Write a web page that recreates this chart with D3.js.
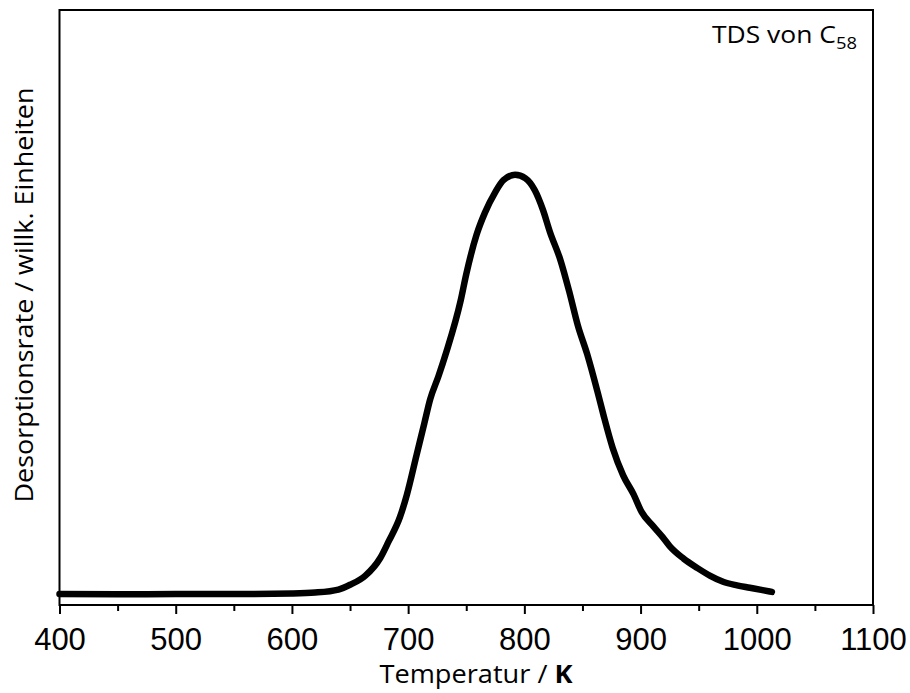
<!DOCTYPE html>
<html>
<head>
<meta charset="utf-8">
<script src="https://cdn.jsdelivr.net/npm/d3@7"></script>
<style>
  body { margin: 0; background: #fff; }
  .tick text { font-family: "Liberation Sans", Arial, sans-serif; }
</style>
</head>
<body>
<div id="vis"></div>
<script>
// frame size and plot box
const FRAME_WIDTH = 910;
const FRAME_HEIGHT = 693;
const MARGINS = {left: 59.5, right: 37, top: 10, bottom: 88};

// data (temperature in K, rate in arbitrary units)
const temperature = [400, 450, 500, 550, 600, 620, 640, 650, 663, 676, 683, 693, 699, 707, 714, 719, 726, 733,
                     745, 750, 759, 766, 775, 782, 792, 801, 809, 816, 822, 831, 839, 846, 854, 863, 868,
                     876, 885, 894, 901, 911, 919, 925, 937, 949, 960, 971, 983, 994, 1005, 1013];
const rate = [1.85, 1.8, 1.85, 1.85, 1.95, 2.1, 2.6, 3.4, 4.9, 7.9, 10.6, 14.8, 18.6, 25.0, 30.6, 34.6, 38.4, 42.6,
              51.0, 55.6, 62.3, 65.9, 69.4, 71.4, 72.3, 71.7, 69.7, 66.4, 62.7, 58.0, 52.4, 47.0, 42.2, 35.8, 32.0,
              26.4, 21.8, 18.6, 15.6, 13.2, 11.4, 9.9, 7.8, 6.2, 4.9, 3.9, 3.3, 2.9, 2.5, 2.2];
const majorTicks = [400, 500, 600, 700, 800, 900, 1000, 1100];
const minorTicks = [450, 550, 650, 750, 850, 950, 1050];

const data = temperature.map((t, i) => ({t: t, r: rate[i]}));

const VIS_WIDTH = FRAME_WIDTH - MARGINS.left - MARGINS.right;
const VIS_HEIGHT = FRAME_HEIGHT - MARGINS.top - MARGINS.bottom;

const FRAME = d3.select("#vis")
                .append("svg")
                  .attr("width", FRAME_WIDTH)
                  .attr("height", FRAME_HEIGHT);

const X_SCALE = d3.scaleLinear().domain([400, 1100]).range([MARGINS.left, MARGINS.left + VIS_WIDTH]);
const Y_SCALE = d3.scaleLinear().domain([0, 100]).range([MARGINS.top + VIS_HEIGHT, MARGINS.top]);

// the curve
const line = d3.line()
               .x((d) => X_SCALE(d.t))
               .y((d) => Y_SCALE(d.r))
               .curve(d3.curveMonotoneX);

FRAME.append("path")
     .datum(data)
     .attr("d", line)
     .attr("fill", "none")
     .attr("stroke", "#000")
     .attr("stroke-width", 6.5)
     .attr("stroke-linecap", "round")
     .attr("stroke-linejoin", "round");

// box around the plot
FRAME.append("rect")
     .attr("x", MARGINS.left)
     .attr("y", MARGINS.top)
     .attr("width", VIS_WIDTH)
     .attr("height", VIS_HEIGHT)
     .attr("fill", "none")
     .attr("stroke", "#000")
     .attr("stroke-width", 2);

// bottom axis, major ticks with labels
const xAxis = FRAME.append("g")
     .attr("transform", "translate(0," + (MARGINS.top + VIS_HEIGHT) + ")")
     .call(d3.axisBottom(X_SCALE).tickValues(majorTicks).tickSize(9).tickPadding(14).tickFormat(d3.format("d")));
xAxis.select(".domain").remove();
xAxis.selectAll("line").attr("stroke-width", 2);
xAxis.selectAll("text").attr("font-size", "31px").attr("fill", "#000");

// minor ticks
const xMinor = FRAME.append("g")
     .attr("transform", "translate(0," + (MARGINS.top + VIS_HEIGHT) + ")")
     .call(d3.axisBottom(X_SCALE).tickValues(minorTicks).tickSize(6).tickFormat(""));
xMinor.select(".domain").remove();
xMinor.selectAll("line").attr("stroke-width", 2);

// axis titles
const xTitle = FRAME.append("text")
     .attr("x", 476)
     .attr("y", 683)
     .attr("text-anchor", "middle")
     .attr("font-family", "'Open Sans', sans-serif")
     .attr("font-size", "25px")
     .attr("textLength", 193)
     .attr("lengthAdjust", "spacingAndGlyphs");
xTitle.append("tspan").text("Temperatur / ");
xTitle.append("tspan").attr("font-weight", "bold").text("K");

FRAME.append("text")
     .attr("transform", "translate(33,295) rotate(-90)")
     .attr("text-anchor", "middle")
     .attr("font-family", "'Open Sans', sans-serif")
     .attr("font-size", "26px")
     .attr("textLength", 415)
     .attr("lengthAdjust", "spacingAndGlyphs")
     .text("Desorptionsrate / willk. Einheiten");

// label in the upper right
const label = FRAME.append("text")
     .attr("x", 857)
     .attr("y", 43)
     .attr("text-anchor", "end")
     .attr("font-family", "'Open Sans', sans-serif")
     .attr("font-size", "23px")
     .attr("textLength", 145)
     .attr("lengthAdjust", "spacingAndGlyphs");
label.append("tspan").text("TDS von C");
label.append("tspan").attr("font-size", "16px").attr("dy", 6).text("58");
</script>
</body>
</html>
